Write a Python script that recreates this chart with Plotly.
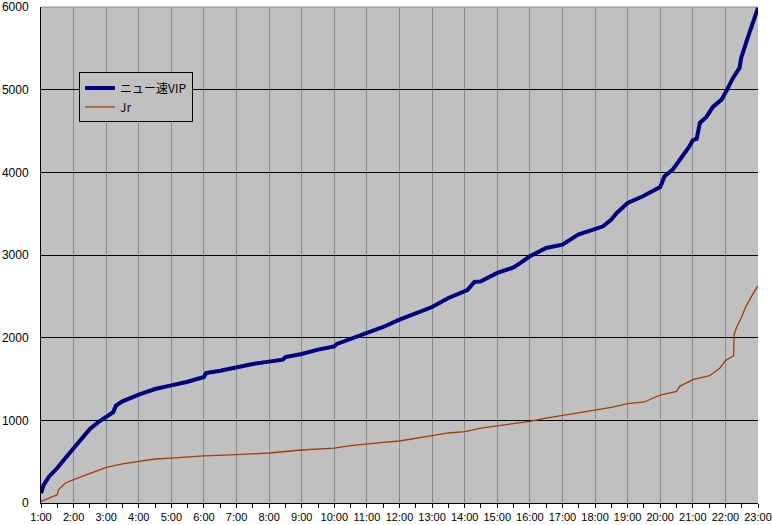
import plotly.graph_objects as go

# ニュー速VIP series (time, cumulative count)
vip_times = ["1:00", "1:05", "1:15", "1:30", "1:45", "2:00", "2:15", "2:30", "2:45", "3:00",
             "3:13", "3:18", "3:30", "4:00", "4:30", "5:00", "5:30", "6:00", "6:04", "6:30",
             "7:00", "7:30", "8:00", "8:25", "8:30", "9:00", "9:30", "10:00", "10:05", "10:30",
             "11:00", "11:30", "12:00", "12:30", "13:00", "13:30", "14:00", "14:05", "14:18", "14:30",
             "15:00", "15:30", "15:44", "16:00", "16:30", "17:00", "17:29", "18:00", "18:15", "18:30",
             "18:40", "19:00", "19:28", "20:00", "20:08", "20:23", "20:39", "20:54", "21:00", "21:07",
             "21:13", "21:25", "21:37", "21:53", "22:00", "22:14", "22:26", "22:29", "22:41", "23:00"]
vip_values = [120, 220, 322, 423, 544, 665, 786, 895, 975, 1035,
              1100, 1177, 1229, 1310, 1379, 1423, 1467, 1524, 1573, 1600,
              1641, 1682, 1710, 1734, 1766, 1803, 1855, 1895, 1925, 1984,
              2048, 2129, 2218, 2299, 2371, 2480, 2560, 2575, 2674, 2681,
              2783, 2850, 2911, 2984, 3085, 3125, 3246, 3315, 3347, 3428,
              3509, 3630, 3710, 3823, 3952, 4033, 4174, 4315, 4390, 4404,
              4598, 4670, 4791, 4880, 4961, 5142, 5263, 5384, 5626, 5989]

# Jr series
jr_times = ["1:00", "1:10", "1:20", "1:30", "1:32", "1:45", "2:00", "2:30", "3:00", "3:30",
            "4:00", "4:30", "5:00", "5:30", "6:00", "7:00", "7:30", "8:00", "9:00", "10:00",
            "10:30", "11:00", "11:30", "12:00", "12:30", "13:00", "13:30", "14:00", "14:30", "15:00",
            "15:30", "16:00", "16:30", "17:00", "17:30", "18:00", "18:30", "19:00", "19:31", "19:47",
            "20:00", "20:30", "20:36", "21:00", "21:31", "21:50", "22:00", "22:11", "22:15", "22:16",
            "22:20", "22:29", "22:38", "22:48", "23:00"]
jr_values = [20, 48, 80, 100, 160, 242, 282, 355, 431, 472,
             504, 532, 544, 560, 569, 584, 596, 605, 641, 665,
             693, 717, 733, 750, 778, 814, 847, 863, 907, 937,
             964, 988, 1028, 1060, 1089, 1121, 1157, 1201, 1222, 1270,
             1306, 1350, 1411, 1492, 1540, 1633, 1722, 1766, 1780, 2036,
             2117, 2238, 2379, 2500, 2629]

hour_ticks = list(range(1, 24))
hour_labels = [f"{h}:00" for h in hour_ticks]
y_ticks = [0, 1000, 2000, 3000, 4000, 5000, 6000]


def to_hours(t):
    h, m = t.split(":")
    return int(h) + int(m) / 60.0


fig = go.Figure()
fig.add_trace(go.Scatter(
    x=[to_hours(t) for t in vip_times], y=vip_values, mode="lines",
    name="ニュー速VIP", line=dict(color="#000080", width=4)))
fig.add_trace(go.Scatter(
    x=[to_hours(t) for t in jr_times], y=jr_values, mode="lines",
    name="Jr", line=dict(color="#A33A0A", width=1.3)))

font_family = "Liberation Sans, Noto Sans CJK JP, sans-serif"

fig.update_layout(
    width=772, height=525,
    margin=dict(l=41, r=14, t=7, b=22, autoexpand=False),
    paper_bgcolor="white",
    plot_bgcolor="#C0C0C0",
    font=dict(family=font_family, size=12, color="black"),
    showlegend=True,
    legend=dict(
        x=0.053, y=0.868, xanchor="left", yanchor="top",
        bgcolor="#C0C0C0", bordercolor="black", borderwidth=1,
        font=dict(family="Noto Sans CJK JP, Liberation Sans, sans-serif", size=12),
        tracegroupgap=0, itemwidth=30,
    ),
    xaxis=dict(
        range=[1, 23], tickmode="array", tickvals=hour_ticks, ticktext=hour_labels,
        automargin=False, ticklabeloverflow="allow",
        showgrid=True, gridcolor="#8C8C8C", gridwidth=1,
        showline=True, linecolor="black", linewidth=1,
        ticks="outside", ticklen=4, tickcolor="black",
        minor=dict(dtick=0.5, ticks="outside", ticklen=4, tickcolor="black", showgrid=False),
        zeroline=False, tickfont=dict(size=11),
    ),
    yaxis=dict(
        range=[0, 6000], tickmode="array", tickvals=y_ticks,
        automargin=False, ticklabeloverflow="allow", ticklabelstandoff=9,
        showgrid=True, gridcolor="black", gridwidth=1,
        showline=True, linecolor="black", linewidth=1,
        ticks="", zeroline=False, tickfont=dict(size=12),
    ),
    shapes=[dict(type="line", xref="paper", yref="paper", x0=0, x1=1, y0=1, y1=1,
                 line=dict(color="#8C8C8C", width=1), layer="below")],
)

fig.write_html("out.html",
               config={"displayModeBar": False},
               post_script="document.body.style.margin='0';document.body.style.overflow='hidden';")
